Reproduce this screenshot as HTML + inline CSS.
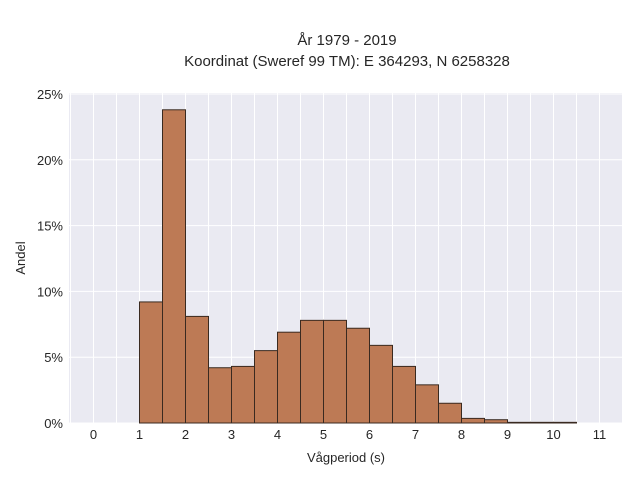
<!DOCTYPE html>
<html><head><meta charset="utf-8"><style>
body{margin:0;background:#fff;font-family:"Liberation Sans",sans-serif}
svg text{font-family:"Liberation Sans",sans-serif;fill:#262626}
</style></head><body>
<svg width="640" height="480">
<text x="347" y="45" text-anchor="middle" font-size="15">År 1979 - 2019</text>
<text x="347" y="66" text-anchor="middle" font-size="15">Koordinat (Sweref 99 TM): E 364293, N 6258328</text>
<rect x="69" y="93" width="553" height="330" fill="#eaeaf2"/>
<g id="grid"></g>
<g id="bars"></g>
<g id="xt"></g>
<g id="yt"></g>
<text x="346" y="462" text-anchor="middle" font-size="13">Vågperiod (s)</text>
<text transform="translate(25,258) rotate(-90)" text-anchor="middle" font-size="13">Andel</text>
</svg>
<script>
const binStarts=[1,1.5,2,2.5,3,3.5,4,4.5,5,5.5,6,6.5,7,7.5,8,8.5,9,9.5,10];
const values=[9.2,23.8,8.1,4.2,4.3,5.5,6.9,7.8,7.8,7.2,5.9,4.3,2.9,1.5,0.35,0.25,0.05,0.05,0.05];
const xTicks=[0,1,2,3,4,5,6,7,8,9,10,11];
const yTicks=[0,5,10,15,20,25];
const binWidth=0.5;
const X=v=>93.5+v*46, Y=v=>423-v*13.16;
const NS="http://www.w3.org/2000/svg";
function mk(t,a,p){const e=document.createElementNS(NS,t);for(const k in a)e.setAttribute(k,a[k]);p.appendChild(e);return e;}
const grid=document.getElementById('grid');
for(let v=-0.5;v<=11.3;v+=0.5){const l=mk('line',{x1:X(v),x2:X(v),y1:93,y2:423,stroke:'#fff','stroke-width':1},grid);

}
yTicks.forEach(v=>{const l=mk('line',{x1:69,x2:622,y1:Y(v),y2:Y(v),stroke:'#fff','stroke-width':1},grid);


const t=mk('text',{x:63,y:Y(v)+5,'text-anchor':'end','font-size':13},document.getElementById('yt'));t.textContent=v+'%';

});
xTicks.forEach(v=>{const t=mk('text',{x:X(v),y:439,'text-anchor':'middle','font-size':13},document.getElementById('xt'));t.textContent=v;

});
const bars=document.getElementById('bars');
binStarts.forEach((s,i)=>{const r=mk('rect',{x:X(s),y:Y(values[i]),width:X(s+binWidth)-X(s),height:Y(0)-Y(values[i]),fill:'#bd7a55',stroke:'#3a2a20','stroke-width':1},bars);

});
</script>
</body></html>
